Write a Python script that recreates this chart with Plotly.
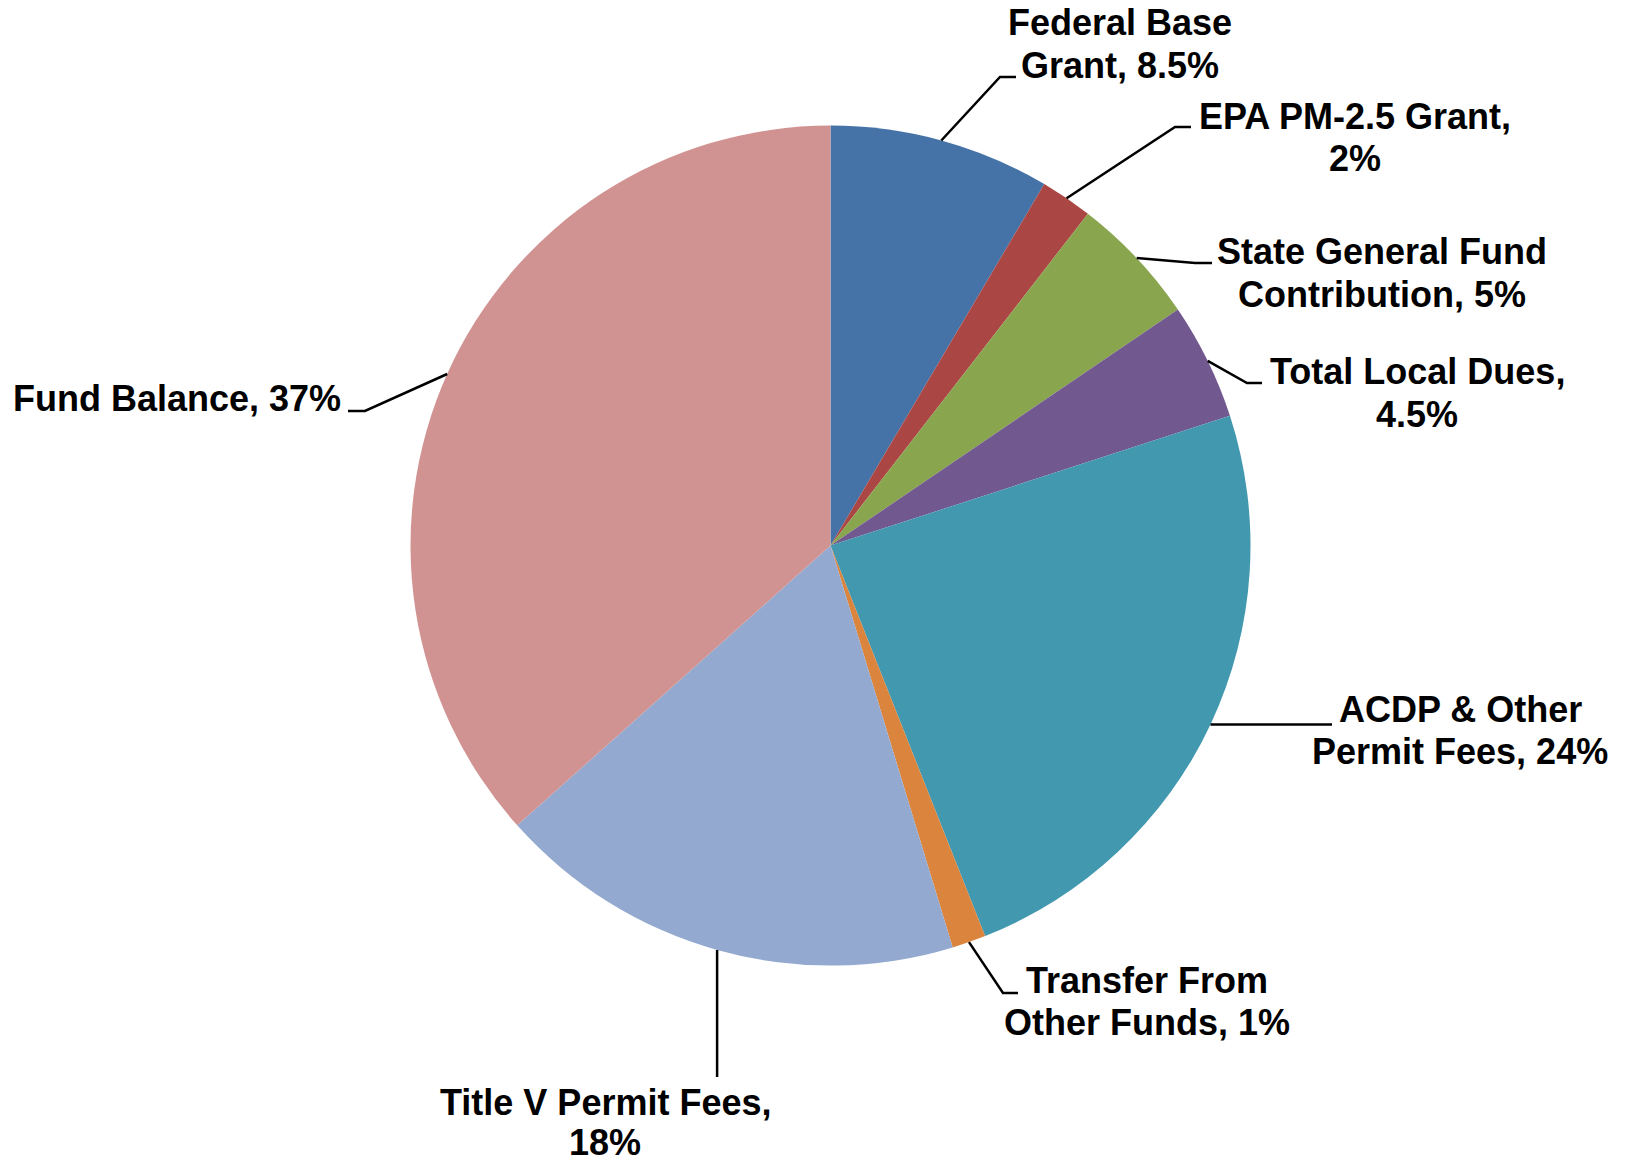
import math
import plotly.graph_objects as go

# ---------------- data ----------------
categories = [
    "Federal Base Grant",
    "EPA PM-2.5 Grant",
    "State General Fund Contribution",
    "Total Local Dues",
    "ACDP & Other Permit Fees",
    "Transfer From Other Funds",
    "Title V Permit Fees",
    "Fund Balance",
]
shares = [8.5, 2.0, 5.0, 4.5, 24.0, 1.3, 18.1, 36.6]
pct_labels = ["8.5%", "2%", "5%", "4.5%", "24%", "1%", "18%", "37%"]
label_lines = [
    ["Federal Base", "Grant, 8.5%"],
    ["EPA PM-2.5 Grant,", "2%"],
    ["State General Fund", "Contribution, 5%"],
    ["Total Local Dues,", "4.5%"],
    ["ACDP & Other", "Permit Fees, 24%"],
    ["Transfer From", "Other Funds, 1%"],
    ["Title V Permit Fees,", "18%"],
    ["Fund Balance, 37%"],
]
colors = ["#4572A7", "#AA4643", "#89A54E", "#71588F",
          "#4198AF", "#DB843D", "#93A9CF", "#D19392"]

# ---------------- layout (pixels) ----------------
W, H = 1625, 1165
CX, CY, R = 830.5, 545.6, 420.0
FONT_SIZE = 36
LINE_GAP = 42.5
# per label: leader elbow, leader end, text centre x, first-line centre y, line gap
label_layout = [
    dict(elbow=(1000, 77), end=(1016, 77), tx=1120, ty=22.5, gap=LINE_GAP),
    dict(elbow=(1175, 127), end=(1191, 127), tx=1355, ty=116, gap=LINE_GAP),
    dict(elbow=(1195, 263), end=(1212, 263), tx=1382, ty=251.5, gap=LINE_GAP),
    dict(elbow=(1247, 383), end=(1262, 383), tx=1417, ty=371.5, gap=LINE_GAP),
    dict(elbow=None, end=(1332, None), tx=1460, ty=709, gap=LINE_GAP),
    dict(elbow=(1003, 993), end=(1018, 993), tx=1147, ty=980, gap=LINE_GAP),
    dict(elbow=None, end=(None, 1077), tx=605, ty=1102, gap=40),
    dict(elbow=(365, 411), end=(348, 411), tx=177, ty=398, gap=LINE_GAP),
]

fig = go.Figure()
fig.add_trace(go.Pie(
    labels=categories,
    values=shares,
    sort=False,
    direction="clockwise",
    rotation=0,
    marker=dict(colors=colors, line=dict(width=0)),
    textinfo="none",
    hovertemplate="%{label}: %{percent}<extra></extra>",
    showlegend=False,
    domain=dict(x=[(CX - R) / W, (CX + R) / W],
                y=[(H - CY - R) / H, (H - CY + R) / H]),
))

# leader lines: start at the slice's mid-angle on the pie edge (from data)
total = sum(shares)
cum = 0.0
shapes = []
annotations = []
for i, v in enumerate(shares):
    mid = (cum + v / 2) / total * 2 * math.pi
    cum += v
    sx = CX + R * math.sin(mid)
    sy = CY - R * math.cos(mid)
    lay = label_layout[i]
    pts = [(sx, sy)]
    if lay["elbow"] is not None:
        pts.append(lay["elbow"])
    ex, ey = lay["end"]
    pts.append((sx if ex is None else ex, sy if ey is None else ey))
    path = "M " + " L ".join(f"{x:.1f},{y:.1f}" for x, y in pts)
    shapes.append(dict(type="path", path=path, xref="x", yref="y",
                       line=dict(color="black", width=2.5)))
    for j, line in enumerate(label_lines[i]):
        annotations.append(dict(
            x=lay["tx"], y=lay["ty"] + j * lay["gap"], xref="x", yref="y",
            text=line, showarrow=False, xanchor="center", yanchor="middle",
            borderpad=0,
            font=dict(family="Liberation Sans, Arial, sans-serif",
                      size=FONT_SIZE, color="black", weight="bold"),
        ))

fig.update_layout(
    width=W, height=H,
    margin=dict(l=0, r=0, t=0, b=0),
    paper_bgcolor="white", plot_bgcolor="rgba(0,0,0,0)",
    xaxis=dict(range=[0, W], visible=False, fixedrange=True),
    yaxis=dict(range=[H, 0], visible=False, fixedrange=True),
    shapes=shapes,
    annotations=annotations,
)

fig.write_html("out.html", config={"displayModeBar": False},
               post_script="document.body.style.margin='0';")
